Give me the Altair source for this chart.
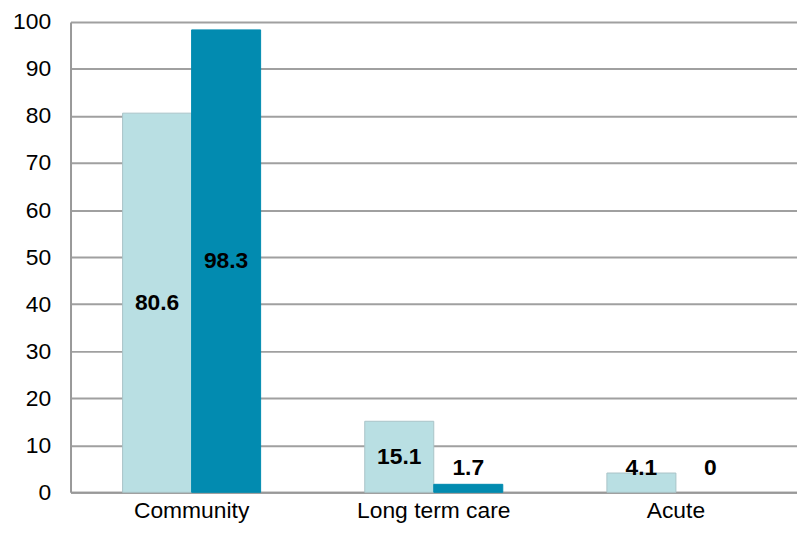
import altair as alt
import pandas as pd

categories = ["Community", "Long term care", "Acute"]
series = ["A", "B"]
values_a = [80.6, 15.1, 4.1]
values_b = [98.3, 1.7, 0]

rows = []
for c, a, b in zip(categories, values_a, values_b):
    rows.append({"cat": c, "s": "A", "v": a})
    rows.append({"cat": c, "s": "B", "v": b})
df = pd.DataFrame(rows)

FONT = "Liberation Sans"

x = alt.X("cat:N", sort=categories, title=None,
          scale=alt.Scale(paddingInner=0.43, paddingOuter=0.215),
          axis=alt.Axis(labelAngle=0, labelFontSize=23, labelFont=FONT, labelColor="black",
                        ticks=False, domainColor="#999999", domainWidth=2, labelPadding=7))
xo = alt.XOffset("s:N", sort=series, scale=alt.Scale(paddingInner=0, paddingOuter=0))

base = alt.Chart(df).encode(x=x, xOffset=xo)

bars = base.mark_bar().encode(
    y=alt.Y("v:Q", title=None, scale=alt.Scale(domain=[0, 100], nice=False),
            axis=alt.Axis(values=list(range(0, 101, 10)), labelFontSize=23, labelFont=FONT,
                          labelColor="black", ticks=False, gridColor="#a0a0a0", gridWidth=2,
                          domainColor="#999999", domainWidth=2, labelPadding=20)),
    color=alt.Color("s:N", sort=series, legend=None,
                    scale=alt.Scale(domain=series, range=["#b9dfe3", "#028bb0"])),
    stroke=alt.Stroke("s:N", legend=None, scale=alt.Scale(domain=series, range=["#a9c4c8", "#028bb0"])),
    strokeWidth=alt.condition("datum.v > 0", alt.value(1), alt.value(0)),
)

labels = base.transform_calculate(
    ly="datum.v / 2 < 5.2 ? 5.2 : datum.v / 2"
).mark_text(fontSize=23, fontWeight="bold", font=FONT, color="black").encode(
    y="ly:Q",
    text=alt.Text("v:Q"),
)

chart = alt.layer(bars, labels).properties(
    width=732, height=474,
    autosize=alt.AutoSizeParams(type="none"),
    padding={"left": 63, "top": 12, "right": 0, "bottom": 39},
).configure_view(stroke=None).configure_axis(grid=True).configure_axisX(grid=False)

chart.save("out.html", embed_options={"renderer": "svg", "actions": False})
